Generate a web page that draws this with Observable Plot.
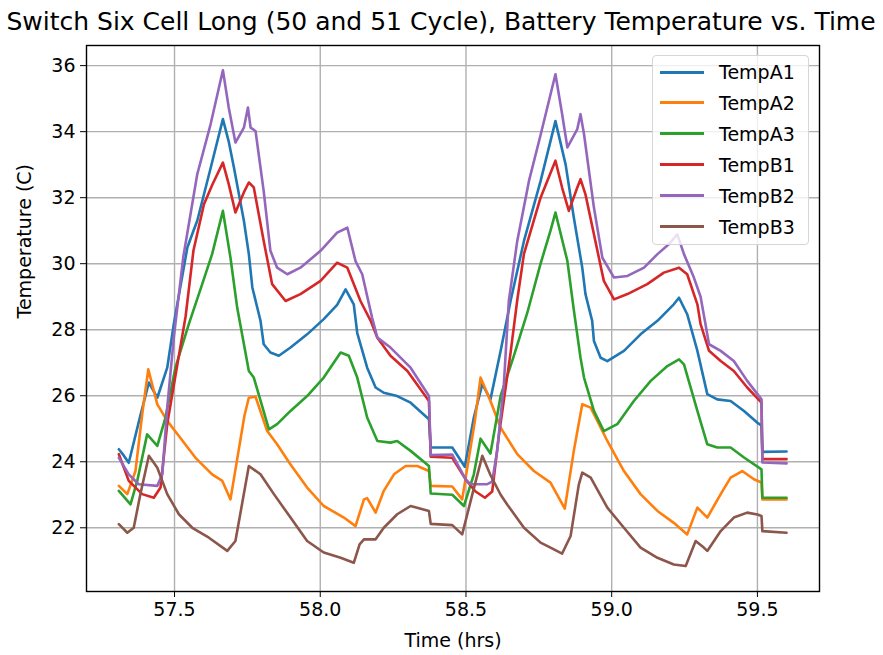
<!DOCTYPE html>
<html>
<head>
<meta charset="utf-8">
<script src="https://cdn.jsdelivr.net/npm/d3@7"></script>
<script src="https://cdn.jsdelivr.net/npm/@observablehq/plot@0.6"></script>
<style>
  body { margin: 0; background: #fff; }
  #wrap { position: relative; width: 883px; height: 655px; font-family: "DejaVu Sans", sans-serif; }
  #legend { position: absolute; left: 652px; top: 55px; width: 157px; height: 190px; box-sizing: border-box;
            border: 1px solid #d6d6d6; border-radius: 4px; background: rgba(255,255,255,0.8); }
  .lrow { position: absolute; left: 0; height: 24px; display: flex; align-items: center; font-size: 19px; color: #000; white-space: nowrap; }
  .lsw { display: inline-block; width: 44px; height: 3px; margin-left: 7px; margin-right: 15px; }
</style>
</head>
<body>
<div id="wrap"></div>
<script>
// ---- data (time in hrs, temperature in C) ----
const seriesNames = ["TempA1", "TempA2", "TempA3", "TempB1", "TempB2", "TempB3"];
const seriesColors = ["#1f77b4", "#ff7f0e", "#2ca02c", "#d62728", "#9467bd", "#8c564b"];
const xTicks = [57.5, 58.0, 58.5, 59.0, 59.5];
const yTicks = [22, 24, 26, 28, 30, 32, 34, 36];
const titleText = "Switch Six Cell Long (50 and 51 Cycle), Battery Temperature vs. Time";
const xLabel = "Time (hrs)";
const yLabel = "Temperature (C)";

const tempA1 = [[57.309,24.38],[57.325,24.2],[57.343,23.97],[57.380,25.3],[57.412,26.40],[57.441,25.94],[57.475,26.85],[57.498,28.2],[57.544,30.49],[57.565,31.0],[57.578,31.3],[57.624,32.9],[57.666,34.38],[57.686,33.7],[57.704,32.91],[57.738,31.3],[57.755,30.29],[57.767,29.28],[57.795,28.27],[57.806,27.56],[57.829,27.31],[57.858,27.21],[57.898,27.46],[57.955,27.86],[58.012,28.32],[58.058,28.75],[58.087,29.22],[58.115,28.77],[58.127,27.9],[58.161,26.85],[58.190,26.25],[58.218,26.09],[58.264,25.99],[58.310,25.79],[58.373,25.29],[58.379,24.43],[58.453,24.43],[58.496,23.85],[58.527,25.34],[58.556,26.35],[58.584,25.89],[58.619,27.36],[58.653,28.87],[58.699,30.69],[58.756,32.5],[58.807,34.32],[58.842,33.0],[58.870,31.4],[58.899,29.88],[58.910,29.08],[58.933,28.27],[58.939,27.66],[58.962,27.15],[58.985,27.05],[59.042,27.36],[59.099,27.86],[59.157,28.27],[59.213,28.77],[59.231,28.97],[59.259,28.47],[59.294,27.36],[59.328,26.05],[59.362,25.89],[59.408,25.84],[59.454,25.54],[59.500,25.18],[59.514,25.1],[59.517,24.3],[59.600,24.31]];

const tempA2 = [[57.309,23.27],[57.338,23.02],[57.366,23.72],[57.390,25.5],[57.410,26.80],[57.441,25.74],[57.475,25.24],[57.515,24.78],[57.572,24.12],[57.629,23.62],[57.664,23.42],[57.692,22.86],[57.740,25.4],[57.755,25.94],[57.778,25.97],[57.818,24.93],[57.852,24.53],[57.898,23.92],[57.955,23.22],[58.012,22.66],[58.081,22.31],[58.121,22.05],[58.150,22.86],[58.161,22.9],[58.190,22.46],[58.218,23.12],[58.253,23.62],[58.293,23.87],[58.333,23.87],[58.373,23.72],[58.379,23.27],[58.453,23.25],[58.487,22.86],[58.530,25.2],[58.550,26.55],[58.584,25.84],[58.619,25.03],[58.676,24.23],[58.733,23.72],[58.790,23.37],[58.839,22.58],[58.870,24.33],[58.899,25.74],[58.928,25.64],[58.985,24.63],[59.042,23.72],[59.099,23.02],[59.157,22.51],[59.213,22.15],[59.259,21.80],[59.294,22.61],[59.328,22.31],[59.374,23.02],[59.408,23.52],[59.448,23.72],[59.488,23.47],[59.514,23.37],[59.517,22.86],[59.600,22.86]];

const tempA3 = [[57.309,23.12],[57.349,22.71],[57.372,23.42],[57.406,24.83],[57.441,24.48],[57.469,25.34],[57.503,26.85],[57.549,28.17],[57.595,29.38],[57.629,30.29],[57.666,31.6],[57.692,30.18],[57.715,28.67],[57.755,26.75],[57.772,26.55],[57.824,24.98],[57.852,25.14],[57.898,25.54],[57.955,25.99],[58.012,26.55],[58.070,27.31],[58.098,27.21],[58.127,26.55],[58.161,25.34],[58.196,24.63],[58.241,24.58],[58.264,24.63],[58.310,24.33],[58.373,23.87],[58.379,23.04],[58.453,23.0],[58.493,22.66],[58.527,23.62],[58.550,24.70],[58.584,24.25],[58.619,26.0],[58.664,27.2],[58.710,28.5],[58.756,30.0],[58.790,31.0],[58.807,31.55],[58.848,30.08],[58.870,28.6],[58.893,27.15],[58.905,26.55],[58.939,25.54],[58.973,24.93],[59.019,25.14],[59.076,25.84],[59.134,26.45],[59.191,26.9],[59.231,27.1],[59.248,26.95],[59.294,25.54],[59.328,24.53],[59.362,24.43],[59.408,24.43],[59.454,24.13],[59.514,23.77],[59.517,22.91],[59.600,22.91]];

const tempB1 = [[57.309,24.23],[57.343,23.42],[57.389,23.02],[57.429,22.91],[57.452,23.22],[57.475,25.14],[57.503,26.6],[57.538,28.4],[57.565,30.4],[57.601,31.80],[57.630,32.4],[57.666,33.06],[57.686,32.41],[57.709,31.55],[57.740,32.2],[57.755,32.46],[57.772,32.31],[57.806,30.69],[57.835,29.38],[57.881,28.87],[57.932,29.08],[58.001,29.48],[58.058,30.03],[58.093,29.88],[58.138,28.87],[58.173,28.27],[58.196,27.76],[58.241,27.21],[58.299,26.75],[58.373,25.84],[58.379,24.15],[58.453,24.12],[58.500,23.45],[58.533,23.1],[58.565,22.91],[58.590,23.1],[58.613,24.8],[58.653,27.3],[58.676,28.9],[58.699,30.3],[58.756,32.0],[58.807,33.12],[58.830,32.3],[58.853,31.6],[58.882,32.31],[58.893,32.56],[58.910,32.1],[58.939,30.89],[58.973,29.48],[59.008,28.92],[59.054,29.08],[59.122,29.38],[59.179,29.73],[59.231,29.88],[59.259,29.68],[59.294,28.77],[59.305,28.17],[59.334,27.36],[59.374,27.05],[59.419,26.75],[59.465,26.25],[59.514,25.79],[59.517,24.08],[59.600,24.08]];

const tempB2 = [[57.309,24.12],[57.343,23.62],[57.377,23.32],[57.441,23.27],[57.458,23.62],[57.475,25.64],[57.498,27.8],[57.530,30.2],[57.578,32.71],[57.624,34.23],[57.666,35.86],[57.686,34.73],[57.709,33.67],[57.738,34.12],[57.752,34.73],[57.761,34.12],[57.778,34.02],[57.806,32.2],[57.829,30.39],[57.852,29.88],[57.887,29.68],[57.932,29.88],[58.001,30.39],[58.058,30.94],[58.093,31.09],[58.121,30.08],[58.144,29.68],[58.178,28.36],[58.196,27.76],[58.241,27.46],[58.310,26.85],[58.373,25.99],[58.379,24.2],[58.453,24.22],[58.500,23.45],[58.516,23.32],[58.573,23.32],[58.590,23.4],[58.607,24.33],[58.630,26.35],[58.647,28.87],[58.676,30.69],[58.716,32.5],[58.756,33.9],[58.807,35.74],[58.830,34.53],[58.848,33.52],[58.882,34.08],[58.893,34.53],[58.905,33.93],[58.939,31.7],[58.968,30.18],[59.008,29.58],[59.054,29.63],[59.111,29.88],[59.157,30.29],[59.196,30.59],[59.225,30.89],[59.248,30.29],[59.282,29.58],[59.305,29.0],[59.334,27.56],[59.374,27.36],[59.419,27.05],[59.465,26.45],[59.514,25.89],[59.517,23.98],[59.600,23.95]];

const tempB3 = [[57.309,22.11],[57.338,21.85],[57.360,22.0],[57.383,23.02],[57.412,24.18],[57.441,23.82],[57.475,23.02],[57.515,22.41],[57.561,22.0],[57.618,21.70],[57.681,21.30],[57.709,21.6],[57.755,23.87],[57.795,23.62],[57.841,23.02],[57.898,22.31],[57.955,21.60],[58.012,21.25],[58.070,21.09],[58.115,20.94],[58.135,21.5],[58.150,21.65],[58.190,21.65],[58.218,22.0],[58.264,22.41],[58.310,22.66],[58.373,22.51],[58.379,22.12],[58.453,22.08],[58.487,21.8],[58.522,23.02],[58.556,24.18],[58.584,23.6],[58.619,23.0],[58.642,22.7],[58.699,22.0],[58.756,21.55],[58.790,21.4],[58.830,21.22],[58.859,21.75],[58.887,23.3],[58.899,23.67],[58.928,23.52],[58.985,22.61],[59.042,22.0],[59.099,21.40],[59.157,21.09],[59.213,20.89],[59.254,20.84],[59.288,21.6],[59.316,21.40],[59.328,21.3],[59.374,21.9],[59.419,22.31],[59.465,22.46],[59.500,22.4],[59.514,22.36],[59.517,21.9],[59.600,21.85]];

const seriesData = [tempA1, tempA2, tempA3, tempB1, tempB2, tempB3];

// ---- build table ----
const rows = seriesData.flatMap((arr, i) => arr.map(([t, v]) => ({series: seriesNames[i], t, v})));

const chart = Plot.plot({
  width: 883,
  height: 655,
  marginLeft: 86,
  marginRight: 64,
  marginTop: 45,
  marginBottom: 64,
  x: {domain: [57.198, 59.713]},
  y: {domain: [20.07, 36.61]},
  color: {domain: seriesNames, range: seriesColors},
  style: {fontFamily: "DejaVu Sans, sans-serif", fontSize: "19px", color: "#000", background: "#fff", overflow: "visible"},
  marks: [
    Plot.gridX(xTicks, {stroke: "#b0b0b0", strokeOpacity: 1, strokeWidth: 1.4}),
    Plot.gridY(yTicks, {stroke: "#b0b0b0", strokeOpacity: 1, strokeWidth: 1.4}),
    Plot.line(rows, {x: "t", y: "v", z: "series", stroke: "series", strokeWidth: 2.6, strokeLinejoin: "round"}),
    Plot.frame({stroke: "#000", strokeWidth: 1.4}),
    Plot.axisX(xTicks, {tickFormat: d => d.toFixed(1), tickSize: 6, tickPadding: 5, label: null, fontSize: 19}),
    Plot.axisY(yTicks, {tickFormat: d => String(d), tickSize: 6, tickPadding: 5, label: null, fontSize: 19}),
    Plot.text([xLabel], {text: d => d, frameAnchor: "bottom", dy: 55, fontSize: 19}),
    Plot.text([yLabel], {text: d => d, frameAnchor: "left", dx: -62, rotate: -90, fontSize: 19}),
    Plot.text([titleText], {text: d => d, frameAnchor: "top", dx: -12, dy: -33, fontSize: 25})
  ]
});

const wrap = document.getElementById("wrap");
wrap.appendChild(chart);

// ---- legend ----
const legend = document.createElement("div");
legend.id = "legend";
seriesNames.forEach((name, i) => {
  const row = document.createElement("div");
  row.className = "lrow";
  row.style.top = (4 + i * 30.9) + "px";
  const sw = document.createElement("span");
  sw.className = "lsw";
  sw.style.background = seriesColors[i];
  const label = document.createElement("span");
  label.textContent = name;
  row.appendChild(sw);
  row.appendChild(label);
  legend.appendChild(row);
});
wrap.appendChild(legend);
</script>
</body>
</html>
